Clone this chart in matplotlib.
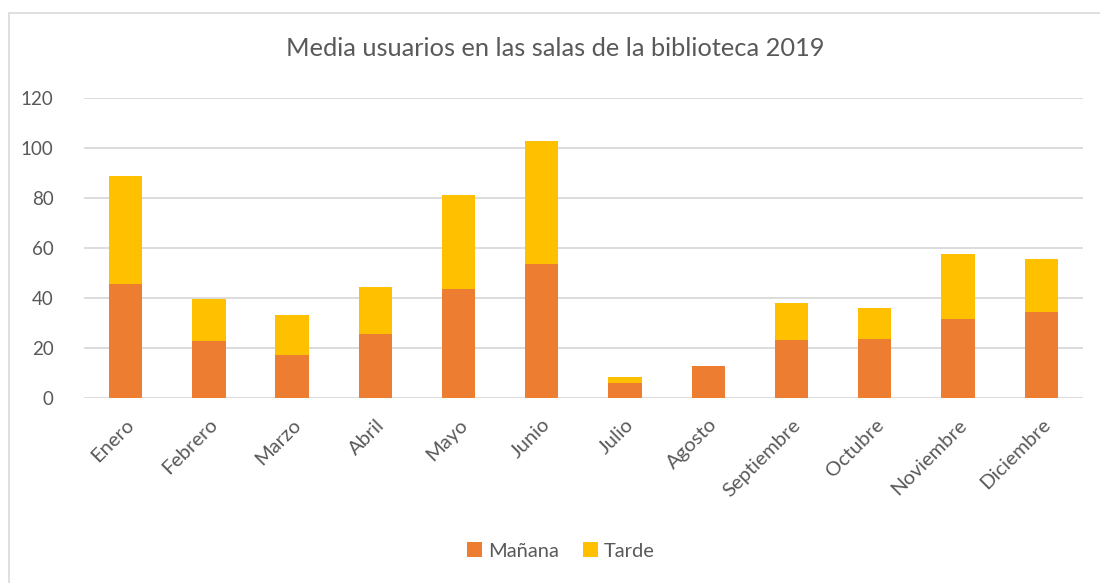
import matplotlib.pyplot as plt
import numpy as np
from matplotlib.patches import Rectangle

plt.rcParams['font.family'] = ['Lato', 'DejaVu Sans']

meses = ["Enero", "Febrero", "Marzo", "Abril", "Mayo", "Junio",
         "Julio", "Agosto", "Septiembre", "Octubre", "Noviembre", "Diciembre"]
manana = [45.6, 22.8, 17.3, 25.5, 43.5, 53.5, 5.9, 12.9, 23.3, 23.6, 31.6, 34.4]
tarde = [43.3, 16.9, 15.9, 18.8, 37.8, 49.2, 2.6, 0.0, 14.7, 12.5, 26.1, 21.3]

gris_texto = "#595959"
gris_linea = "#d9d9d9"

fig = plt.figure(figsize=(11, 5.83), dpi=100)
ax = fig.add_axes([0.0764, 0.3173, 0.908, 0.5146])

x = np.arange(len(meses))
ax.bar(x, manana, width=0.4, color="#ed7d31", label="Mañana", zorder=3)
ax.bar(x, tarde, width=0.4, bottom=manana, color="#ffc000", label="Tarde", zorder=3)

ax.set_xlim(-0.5, len(meses) - 0.5)
ax.set_ylim(0, 120)
ax.set_yticks(range(0, 121, 20))
ax.yaxis.grid(True, color=gris_linea, linewidth=1.3, zorder=0)
for s in ax.spines.values():
    s.set_visible(False)
ax.tick_params(axis='y', length=0, colors=gris_texto, labelsize=13.5, pad=22)
ax.set_xticks(x)
ax.set_xticklabels(meses, rotation=45, ha='right', rotation_mode='anchor')
ax.tick_params(axis='x', length=0, colors=gris_texto, labelsize=14.5, pad=13)

fig.text(0.505, 0.917, "Media usuarios en las salas de la biblioteca 2019",
         ha='center', va='center', fontsize=18.3, color=gris_texto)

fig.legend(loc='center', bbox_to_anchor=(0.51, 0.055), ncol=2, frameon=False,
           fontsize=14.5, labelcolor=gris_texto, handlelength=0.75, handleheight=0.75,
           handletextpad=0.3, columnspacing=1.2)

fig.patches.append(Rectangle((9 / 1100, -0.1), 1.2, (583 - 13) / 583 + 0.1,
                             transform=fig.transFigure, fill=False,
                             edgecolor=gris_linea, linewidth=1.2))

fig.savefig("out.png", dpi=100)
